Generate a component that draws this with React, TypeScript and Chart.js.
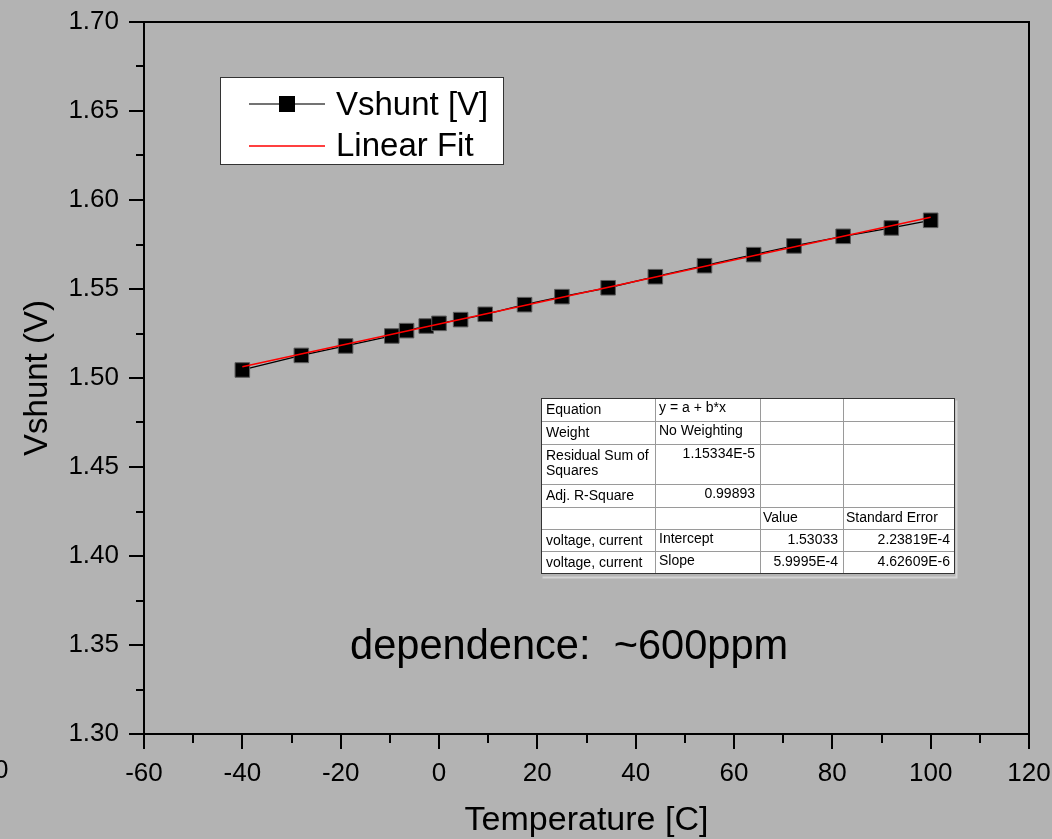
import React, { useEffect, useRef } from "react";
import { Chart, registerables } from "chart.js";

Chart.register(...registerables);

// ---- data ----
const temperatures = [-40, -28, -19, -9.6, -6.6, -2.6, 0, 4.4, 9.4, 17.4, 25, 34.4, 44, 54, 64, 72.2, 82.2, 92, 100];
const vshunt = [1.5045, 1.5127, 1.518, 1.5236, 1.5266, 1.5292, 1.5307, 1.5328, 1.5358, 1.5412, 1.5457, 1.5507, 1.5569, 1.5631, 1.5693, 1.5742, 1.5796, 1.5843, 1.5886];
const fitTemps = [-40, 100];
const fitValues = [1.5063, 1.5903];

const xMajorTicks = [-60, -40, -20, 0, 20, 40, 60, 80, 100, 120];
const xMinorTicks = [-50, -30, -10, 10, 30, 50, 70, 90, 110];
const yMajorTicks = [1.3, 1.35, 1.4, 1.45, 1.5, 1.55, 1.6, 1.65, 1.7];
const yMinorTicks = [1.325, 1.375, 1.425, 1.475, 1.525, 1.575, 1.625, 1.675];

const seriesLabels = ["Vshunt [V]", "Linear Fit"];
const xTitle = "Temperature [C]";
const yTitle = "Vshunt (V)";
const noteText = "dependence:  ~600ppm";
const strayLabel = "0";

const tableCol1 = ["Equation", "Weight", "Residual Sum of\nSquares", "Adj. R-Square", "", "voltage, current", "voltage, current"];
const tableCol2 = ["y = a + b*x", "No Weighting", "1.15334E-5", "0.99893", "", "Intercept", "Slope"];
const tableCol3 = ["", "", "", "", "Value", "1.53033", "5.9995E-4"];
const tableCol4 = ["", "", "", "", "Standard Error", "2.23819E-4", "4.62609E-6"];

const FONT = "'Liberation Sans', Arial, Helvetica, sans-serif";

const decorPlugin = {
  id: "decor",
  afterDraw(chart: any) {
    const ctx = chart.ctx as CanvasRenderingContext2D;
    const { left, right, top, bottom } = chart.chartArea;
    const xs = chart.scales.x;
    const ys = chart.scales.y;
    ctx.save();

    // top & right frame
    ctx.strokeStyle = "#000";
    ctx.lineWidth = 2;
    ctx.beginPath();
    ctx.moveTo(left - 1, top);
    ctx.lineTo(right, top);
    ctx.lineTo(right, bottom);
    ctx.stroke();

    // minor ticks
    ctx.beginPath();
    xMinorTicks.forEach((v) => {
      const px = Math.round(xs.getPixelForValue(v));
      ctx.moveTo(px, bottom);
      ctx.lineTo(px, bottom + 9);
    });
    yMinorTicks.forEach((v) => {
      const py = Math.round(ys.getPixelForValue(v));
      ctx.moveTo(left, py);
      ctx.lineTo(left - 8, py);
    });
    ctx.stroke();

    // stray clipped label at left edge
    ctx.fillStyle = "#000";
    ctx.font = `26px ${FONT}`;
    ctx.textAlign = "right";
    ctx.textBaseline = "top";
    ctx.fillText(strayLabel, 8.5, bottom + 24);

    // legend box
    ctx.fillStyle = "#fff";
    ctx.fillRect(220.5, 77.5, 283, 87);
    ctx.strokeStyle = "#333";
    ctx.lineWidth = 1;
    ctx.strokeRect(220.5, 77.5, 283, 87);

    ctx.strokeStyle = "#444";
    ctx.lineWidth = 1.5;
    ctx.beginPath();
    ctx.moveTo(249, 104);
    ctx.lineTo(325, 104);
    ctx.stroke();
    ctx.fillStyle = "#000";
    ctx.fillRect(279, 96, 16, 16);

    ctx.strokeStyle = "#ff0000";
    ctx.lineWidth = 1.5;
    ctx.beginPath();
    ctx.moveTo(249, 146);
    ctx.lineTo(325, 146);
    ctx.stroke();

    ctx.fillStyle = "#000";
    ctx.font = `33px ${FONT}`;
    ctx.textAlign = "left";
    ctx.textBaseline = "alphabetic";
    ctx.fillText(seriesLabels[0], 336, 115);
    ctx.fillText(seriesLabels[1], 336, 156);

    // fit table
    const cx = [541.5, 655.5, 760.5, 843.5, 954.5];
    const ry = [398.5, 421.5, 444.5, 484.5, 507.5, 529.5, 551.5, 573.5];
    ctx.strokeStyle = "#d4d4d4";
    ctx.lineWidth = 2;
    ctx.beginPath();
    ctx.moveTo(cx[4] + 2, ry[0] + 2);
    ctx.lineTo(cx[4] + 2, ry[7] + 4);
    ctx.lineTo(cx[0] + 1, ry[7] + 4);
    ctx.stroke();

    ctx.fillStyle = "#fff";
    ctx.fillRect(cx[0], ry[0], cx[4] - cx[0], ry[7] - ry[0]);
    ctx.strokeStyle = "#9a9a9a";
    ctx.lineWidth = 1;
    ctx.beginPath();
    for (let i = 1; i < cx.length - 1; i++) {
      ctx.moveTo(cx[i], ry[0]);
      ctx.lineTo(cx[i], ry[7]);
    }
    for (let j = 1; j < ry.length - 1; j++) {
      ctx.moveTo(cx[0], ry[j]);
      ctx.lineTo(cx[4], ry[j]);
    }
    ctx.stroke();
    ctx.strokeStyle = "#333";
    ctx.strokeRect(cx[0], ry[0], cx[4] - cx[0], ry[7] - ry[0]);

    ctx.fillStyle = "#000";
    ctx.font = `14px ${FONT}`;
    ctx.textBaseline = "alphabetic";
    for (let r = 0; r < 7; r++) {
      const t = ry[r];
      const c1 = tableCol1[r].split("\n");
      ctx.textAlign = "left";
      c1.forEach((line, k) => ctx.fillText(line, cx[0] + 4.5, t + 15 + k * 15));
      const c2 = tableCol2[r];
      const numeric2 = /^[0-9.]/.test(c2);
      ctx.textAlign = numeric2 ? "right" : "left";
      ctx.fillText(c2, numeric2 ? cx[2] - 5.5 : cx[1] + 3.5, t + 13.5);
      const c3 = tableCol3[r];
      const numeric3 = /^[0-9.]/.test(c3);
      ctx.textAlign = numeric3 ? "right" : "left";
      ctx.fillText(c3, numeric3 ? cx[3] - 5.5 : cx[2] + 2.5, t + 14);
      const c4 = tableCol4[r];
      const numeric4 = /^[0-9.]/.test(c4);
      ctx.textAlign = numeric4 ? "right" : "left";
      ctx.fillText(c4, numeric4 ? cx[4] - 4.5 : cx[3] + 2.5, t + 14);
    }

    // annotation text
    ctx.font = `41.6px ${FONT}`;
    ctx.textAlign = "left";
    ctx.fillText(noteText, 350, 659);

    ctx.restore();
  },
};

export default function App() {
  const canvasRef = useRef<HTMLCanvasElement | null>(null);

  useEffect(() => {
    if (!canvasRef.current) return;
    Chart.defaults.font.family = FONT;
    const chart = new Chart(canvasRef.current, {
      type: "line",
      data: {
        datasets: [
          {
            label: seriesLabels[1],
            data: fitTemps.map((t, i) => ({ x: t, y: fitValues[i] })),
            borderColor: "#ff0000",
            borderWidth: 1.6,
            pointRadius: 0,
            fill: false,
            order: 0,
          },
          {
            label: seriesLabels[0],
            data: temperatures.map((t, i) => ({ x: t, y: vshunt[i] })),
            borderColor: "#000",
            borderWidth: 1.3,
            pointStyle: "rect",
            pointRadius: 10.3,
            pointBackgroundColor: "#000",
            pointBorderColor: "#5a5a5a",
            pointBorderWidth: 1,
            fill: false,
            order: 1,
          },
        ],
      },
      options: {
        responsive: false,
        animation: false,
        devicePixelRatio: 1,
        layout: { padding: { left: 0, top: 22, right: 23, bottom: 0 } },
        plugins: { legend: { display: false }, tooltip: { enabled: false } },
        scales: {
          x: {
            type: "linear",
            min: -60,
            max: 120,
            afterBuildTicks: (scale: any) => {
              scale.ticks = xMajorTicks.map((v) => ({ value: v }));
            },
            afterFit: (scale: any) => {
              scale.height = 105;
              scale.paddingLeft = 0;
              scale.paddingRight = 0;
            },
            ticks: {
              color: "#000",
              font: { size: 26 },
              padding: 9,
              maxRotation: 0,
              autoSkip: false,
              callback: (v: any) => String(v),
            },
            grid: {
              display: true,
              drawOnChartArea: false,
              drawTicks: true,
              tickLength: 15,
              color: "#000",
              lineWidth: 2,
            },
            border: { display: true, color: "#000", width: 2 },
            title: {
              display: true,
              text: xTitle,
              color: "#000",
              font: { size: 34, lineHeight: 1 },
              padding: { top: 0, bottom: 1 },
            },
          },
          y: {
            type: "linear",
            min: 1.3,
            max: 1.7,
            afterBuildTicks: (scale: any) => {
              scale.ticks = yMajorTicks.map((v) => ({ value: v }));
            },
            afterFit: (scale: any) => {
              scale.width = 144;
              scale.paddingTop = 0;
              scale.paddingBottom = 0;
            },
            ticks: {
              color: "#000",
              font: { size: 26 },
              padding: 10,
              autoSkip: false,
              callback: (v: any) => Number(v).toFixed(2),
            },
            grid: {
              display: true,
              drawOnChartArea: false,
              drawTicks: true,
              tickLength: 15,
              color: "#000",
              lineWidth: 2,
            },
            border: { display: true, color: "#000", width: 2 },
            title: {
              display: true,
              text: yTitle,
              color: "#000",
              font: { size: 33, lineHeight: 1 },
              padding: { top: 21, bottom: 0 },
            },
          },
        },
      },
      plugins: [decorPlugin],
    } as any);
    return () => chart.destroy();
  }, []);

  return (
    <div
      style={{
        position: "absolute",
        left: 0,
        top: 0,
        width: 1052,
        height: 839,
        background: "#b3b3b3",
        overflow: "hidden",
      }}
    >
      <canvas ref={canvasRef} width={1052} height={839} style={{ display: "block", width: 1052, height: 839 }} />
    </div>
  );
}
